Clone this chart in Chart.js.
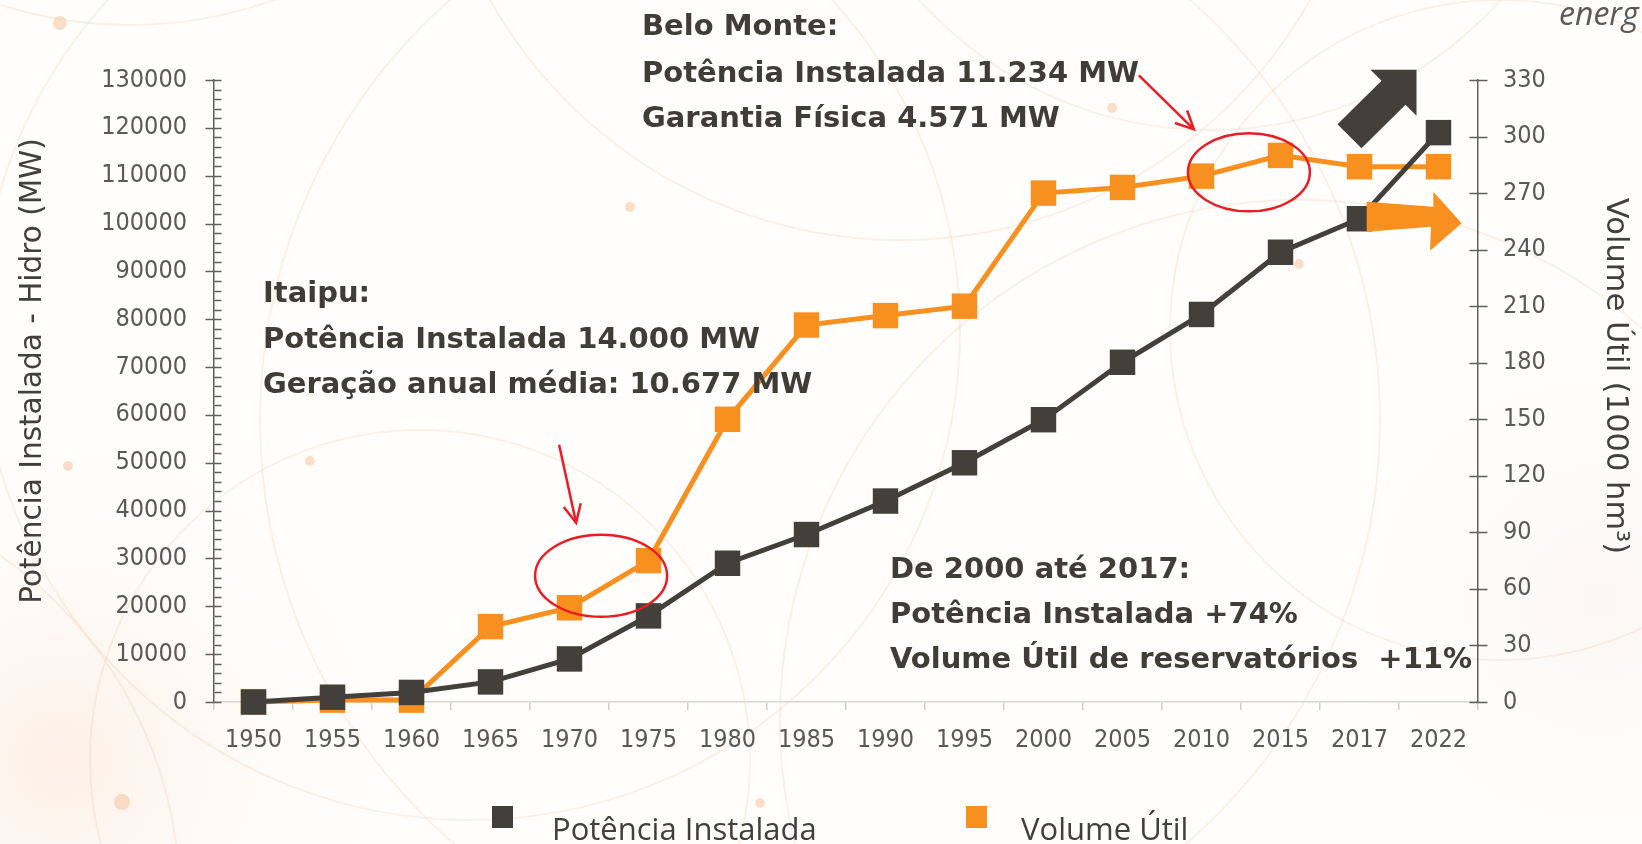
<!DOCTYPE html>
<html><head><meta charset="utf-8">
<script src="https://cdn.jsdelivr.net/npm/chart.js@4.4.1/dist/chart.umd.min.js"></script>
<style>html,body{margin:0;padding:0;background:#fff;overflow:hidden}#wrap{width:1642px;height:844px;position:relative}canvas{display:block}</style>
</head><body><div id="wrap"><canvas id="c" width="1642" height="844"></canvas></div>
<script>
// ---------- data ----------
const years = ['1950','1955','1960','1965','1970','1975','1980','1985','1990','1995','2000','2005','2010','2015','2017','2022'];
const potenciaInstalada = [0, 1000, 2000, 4200, 9000, 18000, 29000, 35000, 42000, 50000, 59000, 71000, 81000, 94000, 101000, 119000];
const volumeUtil = [0, 1, 1, 40, 50, 75, 150, 200, 205, 210, 270, 273, 279, 290, 284, 284];
const seriesLabels = ['Potência Instalada', 'Volume Útil'];
const leftAxis = {min: 0, max: 130000, step: 10000, minor: 2000, title: 'Potência Instalada - Hidro (MW)'};
const rightAxis = {min: 0, max: 330, step: 30, title: 'Volume Útil (1000 hm³)'};
const noteBeloMonte = ['Belo Monte:', 'Potência Instalada 11.234 MW', 'Garantia Física 4.571 MW'];
const noteItaipu = ['Itaipu:', 'Potência Instalada 14.000 MW', 'Geração anual média: 10.677 MW'];
const noteResumo = ['De 2000 até 2017:', 'Potência Instalada +74%', 'Volume Útil de reservatórios  +11%'];

const DARK = '#433f3b', ORANGE = '#f7901e', RED = '#ea1c24', TXT = '#403c38', AX = '#5f5f5f';

function xAt(chart, idx){
  const xs = chart.scales.x;
  const a = xs.getPixelForValue(0), b = xs.getPixelForValue(1);
  return a + idx * (b - a);
}

const decor = {
  id: 'decor',
  beforeDraw(chart){
    const ctx = chart.ctx;
    ctx.save();
    ctx.fillStyle = '#fffefd';
    ctx.fillRect(0, 0, chart.width, chart.height);
    let g = ctx.createRadialGradient(60, 760, 10, 60, 760, 380);
    g.addColorStop(0, 'rgba(250,225,205,0.45)'); g.addColorStop(1, 'rgba(255,255,255,0)');
    ctx.fillStyle = g; ctx.fillRect(0, 0, chart.width, chart.height);
    g = ctx.createRadialGradient(1600, 600, 10, 1600, 600, 300);
    g.addColorStop(0, 'rgba(245,240,235,0.5)'); g.addColorStop(1, 'rgba(255,255,255,0)');
    ctx.fillStyle = g; ctx.fillRect(0, 0, chart.width, chart.height);
    ctx.strokeStyle = 'rgba(236,205,180,0.28)';
    ctx.lineWidth = 2;
    const circles = [[130,-400,425],[470,330,490],[820,420,560],[900,-230,470],[1210,-260,390],[420,760,330],[1300,720,520],[-240,900,420],[1500,330,330]];
    for (const [cx, cy, r] of circles){ ctx.beginPath(); ctx.arc(cx, cy, r, 0, Math.PI*2); ctx.stroke(); }
    ctx.fillStyle = 'rgba(246,200,165,0.6)';
    const dots = [[60,23,7],[630,207,5],[1112,108,5],[1299,264,5],[68,466,5],[310,461,5],[122,802,8],[760,803,5]];
    for (const [x, y, r] of dots){ ctx.beginPath(); ctx.arc(x, y, r, 0, Math.PI*2); ctx.fill(); }
    ctx.fillStyle = '#5a5a5a';
    ctx.font = 'italic 32px "Open Sans"';
    ctx.textBaseline = 'alphabetic';
    ctx.fillText('energ', 1559, 25);
    ctx.restore();
  },
  afterDatasetsDraw(chart){
    const ctx = chart.ctx;
    const y = chart.scales.y, y1 = chart.scales.y1;
    ctx.save();
    // minor / inward ticks
    ctx.strokeStyle = AX; ctx.lineWidth = 1.5;
    const lx = Math.round(y.right) + 0.5;
    for (let v = leftAxis.min; v <= leftAxis.max; v += leftAxis.minor){
      const py = Math.round(y.getPixelForValue(v)) + 0.5;
      ctx.beginPath();
      if (v % leftAxis.step === 0){ ctx.moveTo(lx - 9, py); ctx.lineTo(lx + 7, py); }
      else { ctx.moveTo(lx, py); ctx.lineTo(lx + 7, py); }
      ctx.stroke();
    }
    const rx = Math.round(y1.left) + 0.5;
    for (let v = rightAxis.min; v <= rightAxis.max; v += rightAxis.step){
      const py = Math.round(y1.getPixelForValue(v)) + 0.5;
      ctx.beginPath(); ctx.moveTo(rx - 9, py); ctx.lineTo(rx + 9, py); ctx.stroke();
    }

    // big arrows
    const dx22 = xAt(chart, 15), dy22 = y.getPixelForValue(potenciaInstalada[15]);
    const tipX = dx22 - 22, tipY = dy22 - 63;
    const darkArrow = [[-79,54.7],[-35,11],[-46,0],[0,0],[0,46],[-11,35],[-55,78.7]];
    ctx.fillStyle = DARK;
    ctx.beginPath();
    darkArrow.forEach(([a,b],i)=>{ i ? ctx.lineTo(tipX+a, tipY+b) : ctx.moveTo(tipX+a, tipY+b); });
    ctx.closePath(); ctx.fill();

    const ox = xAt(chart, 14), oy = y.getPixelForValue(potenciaInstalada[14]);
    const orangeArrow = [[7.2,-17.1],[73.8,-12.1],[73.8,-27.1],[102.2,4.5],[70.5,31.9],[71.5,7.9],[7.2,12.9]];
    ctx.fillStyle = ORANGE;
    ctx.beginPath();
    orangeArrow.forEach(([a,b],i)=>{ i ? ctx.lineTo(ox+a, oy+b) : ctx.moveTo(ox+a, oy+b); });
    ctx.closePath(); ctx.fill();

    // red ellipses and arrows
    ctx.strokeStyle = RED; ctx.lineWidth = 2.5;
    function ellipse(cx, cy, rxx, ryy){ ctx.beginPath(); ctx.ellipse(cx, cy, rxx, ryy, 0, 0, Math.PI*2); ctx.stroke(); }
    function arrow(x0, y0, x1, y1){
      ctx.beginPath(); ctx.moveTo(x0, y0); ctx.lineTo(x1, y1); ctx.stroke();
      const ang = Math.atan2(y0 - y1, x0 - x1);
      ctx.beginPath();
      ctx.moveTo(x1 + 20*Math.cos(ang+0.45), y1 + 20*Math.sin(ang+0.45));
      ctx.lineTo(x1, y1);
      ctx.lineTo(x1 + 20*Math.cos(ang-0.45), y1 + 20*Math.sin(ang-0.45));
      ctx.stroke();
    }
    const e1x = xAt(chart, 4.4), e1y = y1.getPixelForValue(67);
    ellipse(e1x, e1y, 66, 41);
    arrow(e1x - 42, e1y - 131, e1x - 25, e1y - 53);
    const e2x = xAt(chart, 12.6), e2y = y1.getPixelForValue(281);
    ellipse(e2x, e2y, 61, 39);
    arrow(e2x - 110, e2y - 97, e2x - 55, e2y - 43);

    // notes
    ctx.fillStyle = TXT;
    ctx.font = 'bold 29px "DejaVu Sans"';
    ctx.textAlign = 'left'; ctx.textBaseline = 'alphabetic';
    const blocks = [[noteBeloMonte, 642, [35, 82, 127]], [noteItaipu, 263, [302, 348, 393]], [noteResumo, 890, [578, 623, 668]]];
    for (const [lines, x, ys] of blocks) lines.forEach((t, i) => ctx.fillText(t, x, ys[i]));
    ctx.restore();
  },
  afterDraw(chart){
    const ctx = chart.ctx;
    ctx.save();
    // axis titles
    ctx.fillStyle = '#404040';
    ctx.font = '29.5px "DejaVu Sans"';
    ctx.textAlign = 'center'; ctx.textBaseline = 'middle';
    ctx.save(); ctx.translate(33, 371); ctx.rotate(-Math.PI/2); ctx.fillText(leftAxis.title, 0, 0); ctx.restore();
    ctx.font = '30.5px "DejaVu Sans"';
    ctx.save(); ctx.translate(1615, 376); ctx.rotate(Math.PI/2); ctx.fillText(rightAxis.title, 0, 0); ctx.restore();
    // legend
    const items = [[DARK, 492, 552], [ORANGE, 966, 1021]];
    ctx.textAlign = 'left'; ctx.textBaseline = 'alphabetic';
    ctx.font = '31px "Open Sans"';
    items.forEach(([col, bx, tx], i) => {
      ctx.fillStyle = col; ctx.fillRect(bx, 806, 21, 22);
      ctx.fillStyle = '#404040'; ctx.fillText(seriesLabels[i], tx, 840);
    });
    ctx.restore();
  }
};

const tickFont = {family: '"DejaVu Sans Condensed", "DejaVu Sans"', size: 25};

new Chart(document.getElementById('c'), {
  type: 'line',
  data: {
    labels: years,
    datasets: [
      {label: seriesLabels[0], data: potenciaInstalada, yAxisID: 'y', borderColor: DARK, backgroundColor: DARK,
       borderWidth: 5, pointStyle: 'rect', pointRadius: 18, pointHoverRadius: 18, pointBorderWidth: 0, tension: 0, clip: false},
      {label: seriesLabels[1], data: volumeUtil, yAxisID: 'y1', borderColor: ORANGE, backgroundColor: ORANGE,
       borderWidth: 5, pointStyle: 'rect', pointRadius: 18, pointHoverRadius: 18, pointBorderWidth: 0, tension: 0, clip: false}
    ]
  },
  options: {
    responsive: false, animation: false, devicePixelRatio: 1,
    layout: {padding: {top: 80, left: 0, right: 0, bottom: 0}},
    plugins: {legend: {display: false}, tooltip: {enabled: false}},
    scales: {
      x: {
        type: 'category', offset: true,
        grid: {offset: true, drawOnChartArea: false, drawTicks: true, tickLength: 8, color: '#cfcfcf', lineWidth: 1.5},
        border: {color: '#d6d6d6', width: 1.5},
        ticks: {font: tickFont, color: '#595959', padding: 15, maxRotation: 0, autoSkip: false},
        afterFit: s => { s.height = 142; }
      },
      y: {
        position: 'left', min: leftAxis.min, max: leftAxis.max,
        grid: {display: false, drawTicks: false},
        border: {color: AX, width: 1.5},
        ticks: {stepSize: leftAxis.step, font: tickFont, color: '#595959', padding: 27, callback: v => String(v)},
        afterFit: s => { s.width = 214; }
      },
      y1: {
        position: 'right', min: rightAxis.min, max: rightAxis.max,
        grid: {display: false, drawTicks: false},
        border: {color: AX, width: 1.5},
        ticks: {stepSize: rightAxis.step, font: tickFont, color: '#595959', padding: 25, callback: v => String(v)},
        afterFit: s => { s.width = 164; }
      }
    }
  },
  plugins: [decor]
});
</script></body></html>
